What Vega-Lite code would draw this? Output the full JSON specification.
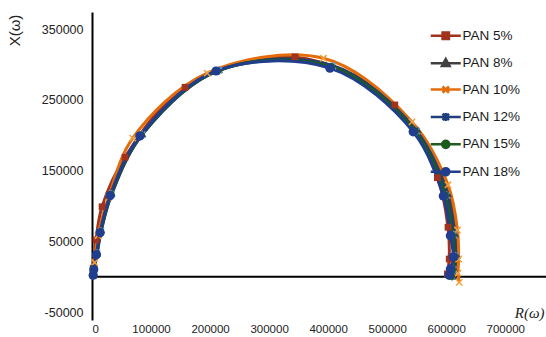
{
  "$schema": "https://vega.github.io/schema/vega-lite/v6.json",
  "width": 454,
  "height": 308,
  "autosize": {"type": "none"},
  "padding": {"left": 92, "top": 12, "right": 0, "bottom": 17},
  "background": "white",
  "config": {"view": {"stroke": null}, "font": "Liberation Sans"},
  "datasets": {
    "nyquist": [
      {"s": "PAN 5%", "i": 1, "R": 1500, "X": 3000},
      {"s": "PAN 5%", "i": 2, "R": 2000, "X": 12000},
      {"s": "PAN 5%", "i": 3, "R": 6800, "X": 52000},
      {"s": "PAN 5%", "i": 4, "R": 17000, "X": 99000},
      {"s": "PAN 5%", "i": 5, "R": 56000, "X": 169000},
      {"s": "PAN 5%", "i": 6, "R": 157600, "X": 268000},
      {"s": "PAN 5%", "i": 7, "R": 344000, "X": 311000},
      {"s": "PAN 5%", "i": 8, "R": 513000, "X": 243000},
      {"s": "PAN 5%", "i": 9, "R": 585000, "X": 140000},
      {"s": "PAN 5%", "i": 10, "R": 603000, "X": 70000},
      {"s": "PAN 5%", "i": 11, "R": 605000, "X": 25000},
      {"s": "PAN 5%", "i": 12, "R": 602000, "X": 4000},

      {"s": "PAN 8%", "i": 1, "R": 2000, "X": 2000},
      {"s": "PAN 8%", "i": 2, "R": 4000, "X": 12000},
      {"s": "PAN 8%", "i": 3, "R": 9000, "X": 35000},
      {"s": "PAN 8%", "i": 4, "R": 16000, "X": 66000},
      {"s": "PAN 8%", "i": 5, "R": 34000, "X": 118000},
      {"s": "PAN 8%", "i": 6, "R": 86000, "X": 202000},
      {"s": "PAN 8%", "i": 7, "R": 216000, "X": 293000},
      {"s": "PAN 8%", "i": 8, "R": 407000, "X": 299000},
      {"s": "PAN 8%", "i": 9, "R": 552000, "X": 208000},
      {"s": "PAN 8%", "i": 10, "R": 604000, "X": 117000},
      {"s": "PAN 8%", "i": 11, "R": 616000, "X": 60000},
      {"s": "PAN 8%", "i": 12, "R": 619000, "X": 30000},
      {"s": "PAN 8%", "i": 13, "R": 615000, "X": 10000},
      {"s": "PAN 8%", "i": 14, "R": 613000, "X": 0},

      {"s": "PAN 10%", "i": 1, "R": 2500, "X": 2000},
      {"s": "PAN 10%", "i": 2, "R": 4500, "X": 20000},
      {"s": "PAN 10%", "i": 3, "R": 10000, "X": 58000},
      {"s": "PAN 10%", "i": 4, "R": 28000, "X": 112000},
      {"s": "PAN 10%", "i": 5, "R": 69000, "X": 196000},
      {"s": "PAN 10%", "i": 6, "R": 195000, "X": 288000},
      {"s": "PAN 10%", "i": 7, "R": 392000, "X": 309000},
      {"s": "PAN 10%", "i": 8, "R": 542000, "X": 219000},
      {"s": "PAN 10%", "i": 9, "R": 603000, "X": 130000},
      {"s": "PAN 10%", "i": 10, "R": 619000, "X": 66000},
      {"s": "PAN 10%", "i": 11, "R": 621000, "X": 25000},
      {"s": "PAN 10%", "i": 12, "R": 620000, "X": 5000},
      {"s": "PAN 10%", "i": 13, "R": 622000, "X": -8000},

      {"s": "PAN 12%", "i": 1, "R": 2000, "X": 1500},
      {"s": "PAN 12%", "i": 2, "R": 3500, "X": 10000},
      {"s": "PAN 12%", "i": 3, "R": 8500, "X": 33000},
      {"s": "PAN 12%", "i": 4, "R": 15000, "X": 64000},
      {"s": "PAN 12%", "i": 5, "R": 33000, "X": 117000},
      {"s": "PAN 12%", "i": 6, "R": 85000, "X": 201000},
      {"s": "PAN 12%", "i": 7, "R": 215000, "X": 292000},
      {"s": "PAN 12%", "i": 8, "R": 408000, "X": 298000},
      {"s": "PAN 12%", "i": 9, "R": 550000, "X": 206000},
      {"s": "PAN 12%", "i": 10, "R": 601000, "X": 115000},
      {"s": "PAN 12%", "i": 11, "R": 613000, "X": 59000},
      {"s": "PAN 12%", "i": 12, "R": 616000, "X": 29000},
      {"s": "PAN 12%", "i": 13, "R": 612000, "X": 10000},
      {"s": "PAN 12%", "i": 14, "R": 610000, "X": 0},

      {"s": "PAN 15%", "i": 1, "R": 2000, "X": 2000},
      {"s": "PAN 15%", "i": 2, "R": 3500, "X": 11000},
      {"s": "PAN 15%", "i": 3, "R": 8000, "X": 32000},
      {"s": "PAN 15%", "i": 4, "R": 14500, "X": 63000},
      {"s": "PAN 15%", "i": 5, "R": 32000, "X": 116000},
      {"s": "PAN 15%", "i": 6, "R": 83000, "X": 200000},
      {"s": "PAN 15%", "i": 7, "R": 212000, "X": 291000},
      {"s": "PAN 15%", "i": 8, "R": 405000, "X": 297000},
      {"s": "PAN 15%", "i": 9, "R": 547000, "X": 206000},
      {"s": "PAN 15%", "i": 10, "R": 598000, "X": 115000},
      {"s": "PAN 15%", "i": 11, "R": 610000, "X": 58000},
      {"s": "PAN 15%", "i": 12, "R": 614000, "X": 28000},
      {"s": "PAN 15%", "i": 13, "R": 610000, "X": 10000},
      {"s": "PAN 15%", "i": 14, "R": 608000, "X": 1000},

      {"s": "PAN 18%", "i": 1, "R": 2000, "X": 2000},
      {"s": "PAN 18%", "i": 2, "R": 3000, "X": 10000},
      {"s": "PAN 18%", "i": 3, "R": 7500, "X": 31000},
      {"s": "PAN 18%", "i": 4, "R": 13600, "X": 62000},
      {"s": "PAN 18%", "i": 5, "R": 30500, "X": 114600},
      {"s": "PAN 18%", "i": 6, "R": 81000, "X": 199000},
      {"s": "PAN 18%", "i": 7, "R": 210000, "X": 291000},
      {"s": "PAN 18%", "i": 8, "R": 403000, "X": 295000},
      {"s": "PAN 18%", "i": 9, "R": 544000, "X": 205000},
      {"s": "PAN 18%", "i": 10, "R": 595000, "X": 114000},
      {"s": "PAN 18%", "i": 11, "R": 607000, "X": 58000},
      {"s": "PAN 18%", "i": 12, "R": 612000, "X": 28000},
      {"s": "PAN 18%", "i": 13, "R": 607000, "X": 11000},
      {"s": "PAN 18%", "i": 14, "R": 605000, "X": 2000}
    ],
    "origin": [{"X": 0}]
  },
  "layer": [
    {
      "data": {"name": "origin"},
      "mark": {"type": "rule", "color": "#000000", "strokeWidth": 2},
      "encoding": {
        "y": {
          "field": "X", "type": "quantitative",
          "scale": {"domain": [-61300, 374500], "nice": false, "zero": false},
          "axis": {
            "title": "X(ω)",
            "values": [-50000, 0, 50000, 100000, 150000, 200000, 250000, 300000, 350000],
            "format": "d", "labelExpr": "replace(datum.label, '−', '-')",
            "grid": false, "ticks": false,
            "domainColor": "#000000", "domainWidth": 2,
            "labelPadding": 9, "labelFontSize": 12.5, "labelColor": "#222222",
            "titleX": -78, "titleY": 18, "titleAngle": -90,
            "titleAlign": "center", "titleBaseline": "middle",
            "titleFontSize": 15, "titleFontWeight": "normal", "titleColor": "#222222"
          }
        }
      }
    },
    {
      "data": {"name": "nyquist"},
      "mark": {"type": "line", "interpolate": "catmull-rom", "strokeWidth": 3},
      "encoding": {
        "x": {
          "field": "R", "type": "quantitative",
          "scale": {"domain": [0, 769000], "nice": false, "zero": false},
          "axis": {
            "title": "R(ω)",
            "values": [0, 100000, 200000, 300000, 400000, 500000, 600000, 700000],
            "format": "d", "grid": false, "ticks": false, "domain": false,
            "labelPadding": 3, "labelFontSize": 11.5, "labelColor": "#222222",
            "titleX": 452, "titleY": -8, "titleAlign": "right", "titleBaseline": "middle",
            "titleFont": "Liberation Serif", "titleFontStyle": "italic",
            "titleFontSize": 15, "titleFontWeight": "normal", "titleColor": "#222222"
          }
        },
        "y": {
          "field": "X", "type": "quantitative",
          "scale": {"domain": [-61300, 374500], "nice": false, "zero": false},
          "axis": {
            "title": "X(ω)",
            "values": [-50000, 0, 50000, 100000, 150000, 200000, 250000, 300000, 350000],
            "format": "d", "labelExpr": "replace(datum.label, '−', '-')",
            "grid": false, "ticks": false,
            "domainColor": "#000000", "domainWidth": 2,
            "labelPadding": 9, "labelFontSize": 12.5, "labelColor": "#222222",
            "titleX": -78, "titleY": 18, "titleAngle": -90,
            "titleAlign": "center", "titleBaseline": "middle",
            "titleFontSize": 15, "titleFontWeight": "normal", "titleColor": "#222222"
          }
        },
        "color": {
          "field": "s", "type": "nominal",
          "scale": {
            "domain": ["PAN 5%", "PAN 8%", "PAN 10%", "PAN 12%", "PAN 15%", "PAN 18%"],
            "range": ["#A0321E", "#404040", "#E46C0A", "#1F3F7C", "#1D5C1D", "#203D8E"]
          },
          "legend": {
            "title": null,
            "orient": "none", "legendX": 347, "legendY": 17,
            "padding": 0, "rowPadding": 9.4,
            "symbolSize": 64, "symbolStrokeWidth": 2.5,
            "labelOffset": 10, "labelFontSize": 13.5, "labelColor": "#1a1a1a",
            "encode": {
              "symbols": {
                "update": {
                  "shape": {"signal": "datum.value === 'PAN 5%' ? 'M-3.75,0L3.75,0M-0.8,-0.8L0.8,-0.8L0.8,0.8L-0.8,0.8Z' : datum.value === 'PAN 8%' ? 'M-3.75,0L3.75,0M0,-1L0.95,0.7L-0.95,0.7Z' : datum.value === 'PAN 10%' ? 'M-3.75,0L3.75,0M-0.8,-0.8L0.8,0.8M-0.8,0.8L0.8,-0.8' : datum.value === 'PAN 12%' ? 'M-3.75,0L3.75,0M-0.8,-0.8L0.8,0.8M-0.8,0.8L0.8,-0.8M0,-1L0,1' : 'M-3.75,0L3.75,0M0.9,0A0.9,0.9,0,1,1,-0.9,0A0.9,0.9,0,1,1,0.9,0Z'"},
                  "fill": {"signal": "indexof(['PAN 10%','PAN 12%'], datum.value) >= 0 ? 'transparent' : scale('color', datum.value)"},
                  "stroke": {"signal": "scale('color', datum.value)"},
                  "opacity": {"value": 1}
                }
              }
            }
          }
        },
        "order": {"field": "i", "type": "quantitative"}
      }
    },
    {
      "data": {"name": "nyquist"},
      "transform": [{"filter": "datum.s === 'PAN 5%'"}],
      "mark": {"type": "point", "shape": "square", "filled": true, "opacity": 1, "color": "#A0321E", "size": 45},
      "encoding": {"x": {"field": "R", "type": "quantitative"}, "y": {"field": "X", "type": "quantitative"}}
    },
    {
      "data": {"name": "nyquist"},
      "transform": [{"filter": "datum.s === 'PAN 8%'"}],
      "mark": {"type": "point", "shape": "triangle-up", "filled": true, "opacity": 1, "color": "#404040", "size": 50},
      "encoding": {"x": {"field": "R", "type": "quantitative"}, "y": {"field": "X", "type": "quantitative"}}
    },
    {
      "data": {"name": "nyquist"},
      "transform": [{"filter": "datum.s === 'PAN 10%'"}],
      "mark": {"type": "point", "shape": "M-1,-1L1,1M-1,1L1,-1", "filled": false, "opacity": 1, "stroke": "#F2A23C", "strokeWidth": 1.5, "size": 40},
      "encoding": {"x": {"field": "R", "type": "quantitative"}, "y": {"field": "X", "type": "quantitative"}}
    },
    {
      "data": {"name": "nyquist"},
      "transform": [{"filter": "datum.s === 'PAN 12%'"}],
      "mark": {"type": "point", "shape": "M-1,-1L1,1M-1,1L1,-1M0,-1.3L0,1.3", "filled": false, "opacity": 1, "stroke": "#6D96D8", "strokeWidth": 1.5, "size": 40},
      "encoding": {"x": {"field": "R", "type": "quantitative"}, "y": {"field": "X", "type": "quantitative"}}
    },
    {
      "data": {"name": "nyquist"},
      "transform": [{"filter": "datum.s === 'PAN 15%'"}],
      "mark": {"type": "point", "shape": "circle", "filled": true, "opacity": 1, "color": "#1D5C1D", "size": 60},
      "encoding": {"x": {"field": "R", "type": "quantitative"}, "y": {"field": "X", "type": "quantitative"}}
    },
    {
      "data": {"name": "nyquist"},
      "transform": [{"filter": "datum.s === 'PAN 18%'"}],
      "mark": {"type": "point", "shape": "circle", "filled": true, "opacity": 1, "color": "#203D8E", "size": 85},
      "encoding": {"x": {"field": "R", "type": "quantitative"}, "y": {"field": "X", "type": "quantitative"}}
    }
  ]
}
